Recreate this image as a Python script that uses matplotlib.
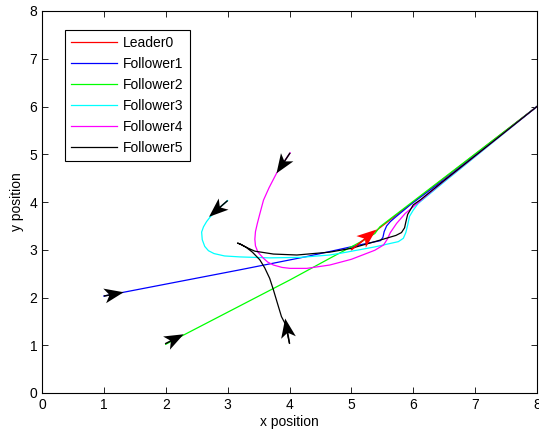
import matplotlib

matplotlib.use("Agg")
import matplotlib.pyplot as plt  # noqa: E402

plt.rcParams["font.family"] = ["Liberation Sans", "DejaVu Sans"]

# trajectories (data units)
leader0_x = [5.0, 8.0]
leader0_y = [3.0, 6.0]

follower1_x = [1.0, 3.2, 4.25, 4.57, 5.2, 5.47, 5.51, 5.53, 5.57, 5.63, 5.71, 5.98, 6.5, 8.0]
follower1_y = [2.03, 2.58, 2.85, 2.94, 3.12, 3.19, 3.26, 3.38, 3.50, 3.59, 3.68, 3.97, 4.47, 6.0]

follower2_x = [2.0, 4.01, 4.65, 5.2, 5.38, 5.46, 6.5, 8.0]
follower2_y = [1.02, 2.37, 2.82, 3.2, 3.34, 3.48, 4.51, 6.0]

follower3_x = [3.0, 2.85, 2.72, 2.66, 2.61, 2.58, 2.59, 2.63, 2.69, 2.78, 2.95, 3.2, 3.68,
               4.17, 4.65, 4.84, 5.38, 5.76, 5.84, 5.88, 5.91, 5.94, 6.0, 6.08, 6.5, 8.0]
follower3_y = [4.03, 3.86, 3.69, 3.59, 3.48, 3.37, 3.21, 3.07, 2.98, 2.92, 2.87, 2.85, 2.83,
               2.84, 2.89, 2.93, 3.06, 3.17, 3.24, 3.36, 3.52, 3.70, 3.83, 3.97, 4.42, 6.0]

follower4_x = [4.01, 3.9, 3.79, 3.67, 3.58, 3.52, 3.48, 3.45, 3.44, 3.45, 3.49, 3.58, 3.65,
               3.74, 3.88, 4.01, 4.28, 4.65, 5.0, 5.38, 5.52, 5.58, 5.63, 5.73, 5.87, 6.5, 8.0]
follower4_y = [5.03, 4.82, 4.6, 4.3, 4.04, 3.75, 3.55, 3.38, 3.22, 3.08, 2.95, 2.82, 2.74,
               2.68, 2.63, 2.61, 2.61, 2.68, 2.8, 2.99, 3.10, 3.22, 3.36, 3.55, 3.76, 4.44, 6.0]

follower5_x = [4.0, 3.93, 3.87, 3.8, 3.74, 3.68, 3.6, 3.52, 3.4, 3.3, 3.2, 3.16, 3.22, 3.32,
               3.44, 3.74, 4.12, 4.65, 5.0, 5.38, 5.72, 5.81, 5.86, 5.88, 5.91, 6.0, 6.11,
               6.5, 8.0]
follower5_y = [1.04, 1.45, 1.6, 1.9, 2.16, 2.4, 2.62, 2.79, 2.95, 3.05, 3.12, 3.14, 3.11, 3.04,
               2.97, 2.91, 2.89, 2.95, 3.03, 3.17, 3.30, 3.36, 3.46, 3.58, 3.74, 3.94, 4.04,
               4.45, 6.0]

labels = ["Leader0", "Follower1", "Follower2", "Follower3", "Follower4", "Follower5"]
colors = ["#ff0000", "#0000ff", "#00ff00", "#00ffff", "#ff00ff", "#000000"]

# initial heading arrows: tail and vector
arrow_x = [5.0, 1.0, 1.99, 3.0, 4.01, 4.0]
arrow_y = [3.0, 2.03, 1.03, 4.03, 5.03, 1.04]
arrow_u = [0.40, 0.32, 0.30, -0.30, -0.22, -0.07]
arrow_v = [0.42, 0.08, 0.20, -0.34, -0.43, 0.52]
arrow_colors = ["#ff0000", "k", "k", "k", "k", "k"]

fig = plt.figure(figsize=(5.39, 4.37), dpi=100)
ax = fig.add_axes([42 / 539, 44 / 437, 495 / 539, 382 / 437])

trajs = [(leader0_x, leader0_y), (follower1_x, follower1_y), (follower2_x, follower2_y),
         (follower3_x, follower3_y), (follower4_x, follower4_y), (follower5_x, follower5_y)]
for (xs, ys), lab, c in zip(trajs, labels, colors):
    ax.plot(xs, ys, color=c, lw=0.9, label=lab)

ax.quiver(arrow_x, arrow_y, arrow_u, arrow_v, angles="xy", scale_units="xy", scale=1,
          color=arrow_colors, width=0.003, headwidth=10, headlength=13,
          headaxislength=10, minshaft=0.4, zorder=3)

ax.set_xlim(0, 8)
ax.set_ylim(0, 8)
ax.set_xticks(range(9))
ax.set_yticks(range(9))
ax.tick_params(direction="in", top=True, right=True, labelsize=10, length=4, width=0.6)
for sp in ax.spines.values():
    sp.set_linewidth(0.8)
ax.set_xlabel("x position", fontsize=10, labelpad=2)
ax.set_ylabel("y position", fontsize=10, labelpad=4)

leg = ax.legend(loc="upper left", bbox_to_anchor=(23 / 495, 363 / 382), borderaxespad=0,
                fontsize=10, fancybox=False, framealpha=1, edgecolor="k",
                handlelength=3.3, handletextpad=0.45, labelspacing=0.5, borderpad=0.45)
leg.get_frame().set_linewidth(0.8)

fig.savefig("out.png", dpi=100)
